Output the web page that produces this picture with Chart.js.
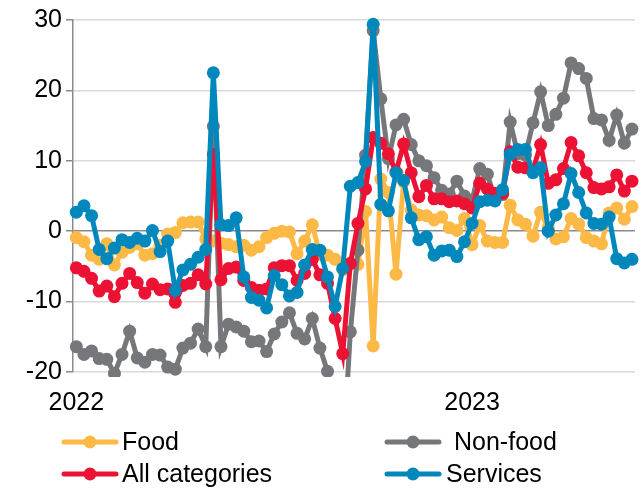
<!DOCTYPE html>
<html lang="en">
<head>
<meta charset="UTF-8">
<title>Weekly change by category</title>
<script src="https://cdn.jsdelivr.net/npm/chart.js@4.4.1/dist/chart.umd.min.js"></script>
<style>
    * { margin: 0; padding: 0; box-sizing: border-box; }
    body { background: #fff; width: 644px; height: 492px; overflow: hidden; }
</style>
</head>
<body>
<canvas id="weeklyChart" width="644" height="492"></canvas>
<script>
    // one value per week, first week of 2022 = index 0
    const yearTicks = [0, 52];
    const yearLabels = ['2022', '2023'];

    const food = [
        -0.9, -1.5, -3.4, -4.0, -1.8, -4.8, -3.0, -2.3, -1.8, -3.4,
        -3.2, -2.0, -0.4, -0.2, 1.2, 1.3, 1.3, -1.1, -1.4, -1.7,
        -1.9, -2.2, -2.0, -2.7, -2.2, -0.9, -0.3, 0.0, -0.1, -3.2,
        -1.4, 0.9, -3.3, -3.4, -4.0, -5.5, -4.5, -4.7, 2.8, -16.3,
        7.4, 5.5, -6.1, 7.0, 3.0, 2.3, 2.2, 1.6, 2.0, 0.5,
        0.1, 1.8, -1.9, 0.8, -1.4, -1.6, -1.6, 3.7, 1.6, 1.0,
        -0.7, 2.7, 0.5, -1.1, -0.8, 1.8, 1.0, -0.9, -1.4, -1.8,
        2.6, 3.3, 1.7, 3.5
    ];
    const nonFood = [
        -16.4, -17.5, -17.0, -18.1, -18.2, -20.2, -17.5, -14.2, -18.0, -18.6,
        -17.5, -17.6, -19.3, -19.6, -16.6, -15.9, -13.9, -16.4, 14.9, -16.4,
        -13.2, -13.6, -14.2, -15.7, -15.6, -17.1, -14.6, -12.9, -11.6, -14.5,
        -15.3, -12.4, -16.6, -19.9, -30.0, -33.0, -14.3, -2.7, 10.8, 28.5,
        18.8, 10.3, 15.1, 15.9, 12.3, 10.0, 9.3, 7.6, 5.8, 5.3,
        7.1, 5.0, 4.4, 8.9, 8.1, 4.6, 5.2, 15.5, 11.0, 10.8,
        15.4, 19.8, 15.0, 16.6, 18.9, 23.9, 23.1, 21.7, 16.0, 15.8,
        12.9, 16.5, 12.5, 14.5
    ];
    const allCategories = [
        -5.2, -5.7, -6.7, -8.5, -7.8, -9.3, -7.4, -6.0, -7.3, -8.8,
        -7.5, -8.3, -8.2, -10.1, -7.7, -7.4, -6.2, -7.5, 10.9, -6.9,
        -5.3, -5.1, -7.0, -8.0, -8.4, -8.2, -5.2, -4.9, -4.9, -7.0,
        -6.0, -4.0, -6.2, -7.4, -12.4, -17.4, -4.6, 1.1, 6.0, 13.3,
        12.5, 11.0, 8.4, 12.4, 8.3, 4.9, 6.5, 4.6, 4.6, 4.2,
        4.3, 3.9, 3.3, 6.8, 6.0, 5.4, 5.4, 11.3, 9.1, 9.0,
        8.7, 12.3, 6.8, 7.3, 8.9, 12.6, 10.7, 8.3, 6.2, 6.0,
        6.3, 8.0, 5.7, 7.1
    ];
    const services = [
        2.7, 3.6, 2.2, -2.6, -3.9, -2.4, -1.2, -1.6, -1.0, -1.4,
        0.1, -2.9, -1.4, -8.4, -5.5, -4.7, -3.7, -2.6, 22.5, 0.9,
        0.8, 1.9, -6.5, -9.4, -9.8, -10.9, -6.3, -7.6, -9.2, -8.7,
        -4.8, -2.6, -2.7, -6.5, -10.7, -5.3, 6.4, 6.9, 9.9, 29.4,
        3.8, 2.9, 8.3, 7.2, 1.9, -1.2, -0.8, -3.4, -2.8, -2.7,
        -3.6, -1.5, 1.1, 4.2, 4.4, 4.3, 5.9, 10.9, 11.6, 11.6,
        8.3, 9.0, 0.0, 2.3, 3.9, 8.2, 5.5, 2.6, 1.1, 1.0,
        2.0, -3.9, -4.5, -4.0
    ];

    const FONT = { family: '"Liberation Sans", Arial, sans-serif', size: 25 };

    function series(label, values, color, order) {
        return {
            label: label,
            data: values.map((v, i) => ({ x: i, y: v })),
            borderColor: color,
            backgroundColor: color,
            borderWidth: 5,
            pointRadius: 6.5,
            pointHoverRadius: 6.5,
            pointBorderWidth: 0,
            order: order,
            clip: { left: 10, top: 10, right: 10, bottom: 5 }
        };
    }

    // legend in two columns under the plot
    const legendSlots = [
        { ds: 0, x: 62, y: 442, textX: 122 },
        { ds: 1, x: 385, y: 442, textX: 454 },
        { ds: 2, x: 62, y: 474, textX: 122 },
        { ds: 3, x: 385, y: 474, textX: 446 }
    ];

    const gridLegend = {
        id: 'gridLegend',
        afterDraw(chart) {
            const ctx = chart.ctx;
            ctx.save();
            ctx.font = FONT.size + 'px ' + FONT.family;
            ctx.textBaseline = 'alphabetic';
            ctx.fillStyle = '#000';
            legendSlots.forEach(s => {
                const ds = chart.data.datasets[s.ds];
                ctx.strokeStyle = ds.borderColor;
                ctx.lineWidth = 5;
                ctx.lineCap = 'round';
                ctx.beginPath();
                ctx.moveTo(s.x + 2, s.y);
                ctx.lineTo(s.x + 54, s.y);
                ctx.stroke();
                ctx.fillStyle = ds.borderColor;
                ctx.beginPath();
                ctx.arc(s.x + 28, s.y, 6.5, 0, Math.PI * 2);
                ctx.fill();
                ctx.fillStyle = '#000';
                ctx.fillText(ds.label, s.textX, s.y + 8);
            });
            ctx.restore();
        }
    };

    new Chart(document.getElementById('weeklyChart'), {
        type: 'line',
        data: {
            datasets: [
                series('Food', food, '#FDB945', 4),
                series('Non-food', nonFood, '#76777A', 3),
                series('All categories', allCategories, '#EC1234', 2),
                series('Services', services, '#0087BC', 1)
            ]
        },
        options: {
            responsive: false,
            animation: false,
            devicePixelRatio: 1,
            layout: { padding: { top: 20, right: 9, left: 0, bottom: 0 } },
            plugins: { legend: { display: false }, tooltip: { enabled: false } },
            scales: {
                x: {
                    type: 'linear',
                    min: -0.44,
                    max: 73.4,
                    grid: { display: false, drawTicks: false },
                    border: { display: false },
                    afterBuildTicks: axis => { axis.ticks = yearTicks.map(v => ({ value: v })); },
                    afterFit: axis => { axis.height = 120; },
                    ticks: {
                        autoSkip: false,
                        maxRotation: 0,
                        padding: 16,
                        color: '#000',
                        font: FONT,
                        callback: v => yearLabels[yearTicks.indexOf(v)]
                    }
                },
                y: {
                    min: -20,
                    max: 30,
                    afterFit: axis => { axis.width = 73; },
                    ticks: { stepSize: 10, padding: 4, color: '#000', font: FONT },
                    grid: {
                        color: c => (c.tick && c.tick.value === 0) ? '#8a8a8a' : '#d9d9d9',
                        lineWidth: 1.5,
                        tickLength: 7,
                        tickColor: '#8a8a8a'
                    },
                    border: { color: '#8a8a8a', width: 1.5 }
                }
            }
        },
        plugins: [gridLegend]
    });
</script>
</body>
</html>
